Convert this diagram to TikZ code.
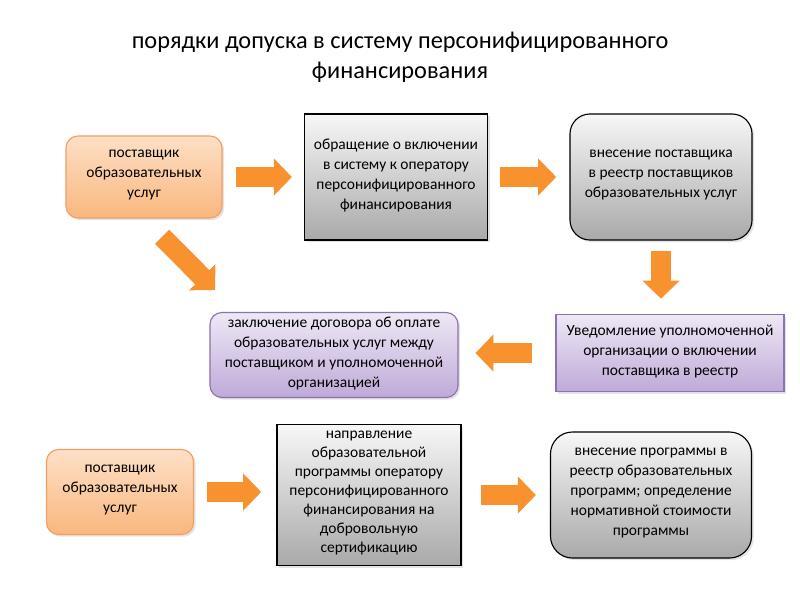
\documentclass[tikz,border=0pt]{standalone}
\usepackage{fontspec}
\setmainfont{Carlito}
\usetikzlibrary{arrows.meta,shadows}

\definecolor{peachtop}{HTML}{FDE0C6}
\definecolor{peachbot}{HTML}{F9B77E}
\definecolor{peachline}{HTML}{F0A060}
\definecolor{graytop}{HTML}{F7F7F7}
\definecolor{graybot}{HTML}{A9A9A9}
\definecolor{liltop}{HTML}{EEE8F5}
\definecolor{lilbot}{HTML}{BFAAD8}
\definecolor{lilline}{HTML}{8C72B0}
\definecolor{arrowor}{HTML}{F7922E}

\tikzset{
  box/.style={align=center, inner sep=2pt, font=\fontsize{11}{14.2}\selectfont,
    execute at begin node=\strut, execute at end node=\strut,
    drop shadow={shadow xshift=1.5pt, shadow yshift=-1.5pt, opacity=0.22}},
  peachbox/.style={box, draw=peachline, line width=0.8pt, rounded corners=0.3cm,
    top color=peachtop, bottom color=peachbot},
  graybox/.style={box, draw=black, line width=0.8pt,
    top color=graytop, bottom color=graybot},
  grayround/.style={graybox, rounded corners=0.5cm},
  lilbox/.style={box, draw=lilline, line width=0.8pt,
    top color=liltop, bottom color=lilbot},
  fatarrow/.style={draw=arrowor, line width=0.5cm,
    -{Triangle[length=0.45cm,width=0.9cm]}},
}

\begin{document}
\begin{tikzpicture}[x=0.025cm,y=-0.025cm]
\useasboundingbox[fill=white] (0,0) rectangle (800,600);

\node[align=center, font=\fontsize{17.3}{21.3}\selectfont] (title) at (400,57)
  {порядки допуска в систему персонифицированного\\финансирования};

\node[peachbox, minimum width=3.9cm, minimum height=2.05cm] (post1) at (144,177)
  {поставщик\\образовательных\\услуг};
\node[graybox, minimum width=4.575cm, minimum height=3.15cm] (obr) at (396,177)
  {обращение о включении\\в систему к оператору\\персонифицированного\\финансирования};
\node[grayround, minimum width=4.55cm, minimum height=3.15cm] (reestr) at (661,177)
  {внесение поставщика\\в реестр поставщиков\\образовательных услуг};
\node[lilbox, rounded corners=0.3cm, minimum width=6.2cm, minimum height=2.125cm] (dogovor) at (334,355)
  {заключение договора об оплате\\образовательных услуг между\\поставщиком и уполномоченной\\организацией};
\node[lilbox, minimum width=5.7cm, minimum height=1.925cm] (uved) at (670,353)
  {Уведомление уполномоченной\\организации о включении\\поставщика в реестр};
\node[peachbox, minimum width=3.675cm, minimum height=2.125cm] (post2) at (120,492)
  {поставщик\\образовательных\\услуг};
\node[graybox, font=\fontsize{11}{13.5}\selectfont, minimum width=4.6cm, minimum height=3.525cm] (napr) at (369,495)
  {направление\\образовательной\\программы оператору\\персонифицированного\\финансирования на\\добровольную\\сертификацию};
\node[grayround, rounded corners=0.55cm, minimum width=5.025cm, minimum height=3.15cm] (progr) at (651,495)
  {внесение программы в\\реестр образовательных\\программ; определение\\нормативной стоимости\\программы};

\coordinate (diagtip) at (215,290);

\draw[fatarrow, shorten <=0.33cm, shorten >=0.3cm] (post1.east) -- (obr.west);
\draw[fatarrow, shorten <=0.3cm, shorten >=0.33cm] (obr.east) -- (reestr.west);
\draw[fatarrow, shorten <=0.25cm, shorten >=0.38cm] (reestr.south) -- (reestr.south |- uved.north);
\draw[fatarrow, shorten <=0.58cm, shorten >=0.42cm] (uved.west) -- (uved.west -| dogovor.east);
\draw[fatarrow, shorten <=0.64cm] (post1.south) -- (diagtip);
\draw[fatarrow, shorten <=0.33cm, shorten >=0.38cm] (post2.east) -- (post2.east -| napr.west);
\draw[fatarrow, shorten <=0.48cm, shorten >=0.35cm] (napr.east) -- (napr.east -| progr.west);
\end{tikzpicture}
\end{document}
